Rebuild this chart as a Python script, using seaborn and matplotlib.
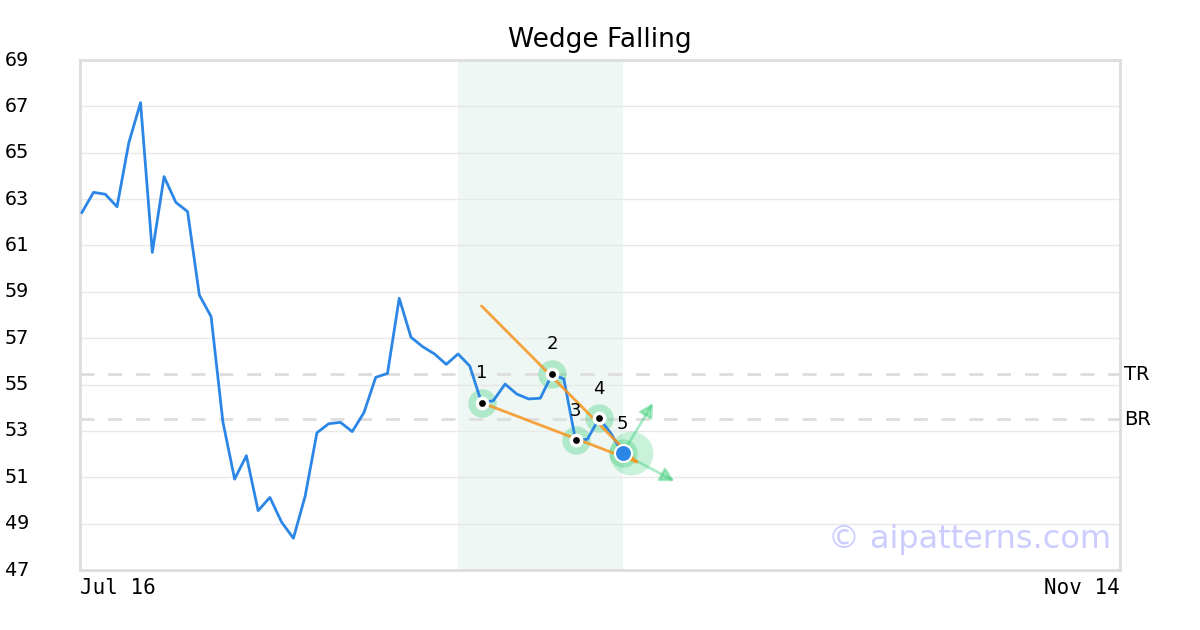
import numpy as np
import pandas as pd
import matplotlib
matplotlib.use("Agg")
import matplotlib.pyplot as plt
import seaborn as sns

sns.set_style("white")
plt.rcParams['font.family'] = ['DejaVu Sans']
plt.rcParams['text.color'] = 'black'

# closing prices, one per trading day from Jul 16
prices = [62.41, 63.29, 63.21, 62.67, 65.43, 67.16, 60.70, 63.97, 62.86, 62.46,
          58.86, 57.93, 53.40, 50.92, 51.93, 49.56, 50.13, 49.06, 48.37, 50.19,
          52.92, 53.31, 53.37, 52.97, 53.79, 55.31, 55.48, 58.72, 57.04, 56.63,
          56.32, 55.87, 56.32, 55.80, 54.22, 54.30, 55.02, 54.59, 54.38, 54.41,
          55.45, 55.24, 52.59, 52.64, 53.54, 52.90, 52.03]
x_labels = ["Jul 16", "Nov 14"]
y_ticks = [47, 49, 51, 53, 55, 57, 59, 61, 63, 65, 67, 69]

# wedge pattern
pivot_idx = [34, 40, 42, 44, 46]
pivot_labels = ["1", "2", "3", "4", "5"]
upper_x = [34, 47.2]
upper_y = [58.39, 51.66]
lower_x = [34, 47.2]
lower_y = [54.22, 51.66]
zone = [32, 46]
tr_level = 55.45
br_level = 53.51
arrow_up = [48.7, 54.3]
arrow_down = [50.6, 50.78]

df = pd.DataFrame({"idx": np.arange(len(prices)), "close": prices})
piv = df.loc[pivot_idx]

fig = plt.figure(figsize=(12, 6.3), dpi=100)
ax = fig.add_axes([80/1200, 60/630, 1040/1200, 510/630])

ax.axvspan(zone[0], zone[1], color="#2e9e6e", alpha=0.08, lw=0, zorder=0)
for lvl in y_ticks:
    ax.axhline(lvl, color="#e8e8e8", lw=1, zorder=0.5)
ax.axhline(tr_level, color="#dddddd", lw=2, ls=(0, (5, 5)), zorder=0.6)
ax.axhline(br_level, color="#dddddd", lw=2, ls=(0, (5, 5)), zorder=0.6)

sns.lineplot(data=df, x="idx", y="close", ax=ax, color="#2b86e6", lw=2, zorder=3)

ax.plot(upper_x, upper_y, color="#f7931e", lw=2, alpha=0.85, zorder=4)
ax.plot(lower_x, lower_y, color="#f7931e", lw=2, alpha=0.85, zorder=4)

# halos
sns.scatterplot(x=piv["idx"], y=piv["close"], ax=ax, s=420, color="#2ecc71",
                alpha=0.32, linewidth=0, zorder=2, legend=False)
ax.scatter([pivot_idx[-1] + 0.7], [prices[pivot_idx[-1]]], s=1000, color="#2ecc71",
           alpha=0.25, lw=0, zorder=2)

# arrows
p5 = (pivot_idx[-1], prices[pivot_idx[-1]])
for tip in (arrow_up, arrow_down):
    ax.annotate("", xy=tip, xytext=p5,
                arrowprops=dict(arrowstyle="-|>,head_length=0.8,head_width=0.45",
                                color="#2ecc71", alpha=0.4, lw=2), zorder=2)

ax.scatter(piv["idx"][:-1], piv["close"][:-1], s=55, color="black",
           edgecolors="white", linewidths=2.5, zorder=6)
ax.scatter([p5[0]], [p5[1]], s=150, color="#2b86e6", edgecolors="white",
           linewidths=1.5, zorder=6)

for i, lab in zip(pivot_idx, pivot_labels):
    ax.text(i, prices[i] + 0.9, lab, ha="center", va="bottom", fontsize=13, zorder=7)

ax.set_xlim(-0.15, 88.3)
ax.set_ylim(47, 69)
ax.set_yticks(y_ticks)
ax.set_yticklabels([])
ax.set_xticks([])
ax.set_xlabel("")
ax.set_ylabel("")
for sp in ax.spines.values():
    sp.set_color("#dddddd")
    sp.set_linewidth(2)

for t in y_ticks:
    y = 570 - (t - 47) / 22 * 510
    fig.text(5/1200, 1 - y/630, str(t), ha="left", va="center",
             family="DejaVu Sans Mono", fontsize=14.5)
fig.text(80/1200, 1 - 588/630, x_labels[0], ha="left", va="center",
         family="DejaVu Sans Mono", fontsize=15)
fig.text(1120/1200, 1 - 588/630, x_labels[1], ha="right", va="center",
         family="DejaVu Sans Mono", fontsize=15)

ax.text(1.004, (tr_level - 47) / 22, "TR", transform=ax.transAxes, ha="left",
        va="center", fontsize=14)
ax.text(1.004, (br_level - 47) / 22, "BR", transform=ax.transAxes, ha="left",
        va="center", fontsize=14)

ax.text(0.991, 0.03, "© aipatterns.com", transform=ax.transAxes, ha="right",
        va="bottom", fontsize=23, color="#ccccff", zorder=1)

fig.text(0.5, 1 - 40/630, "Wedge Falling", ha="center", va="center", fontsize=19)

fig.savefig("out.png", dpi=100)
